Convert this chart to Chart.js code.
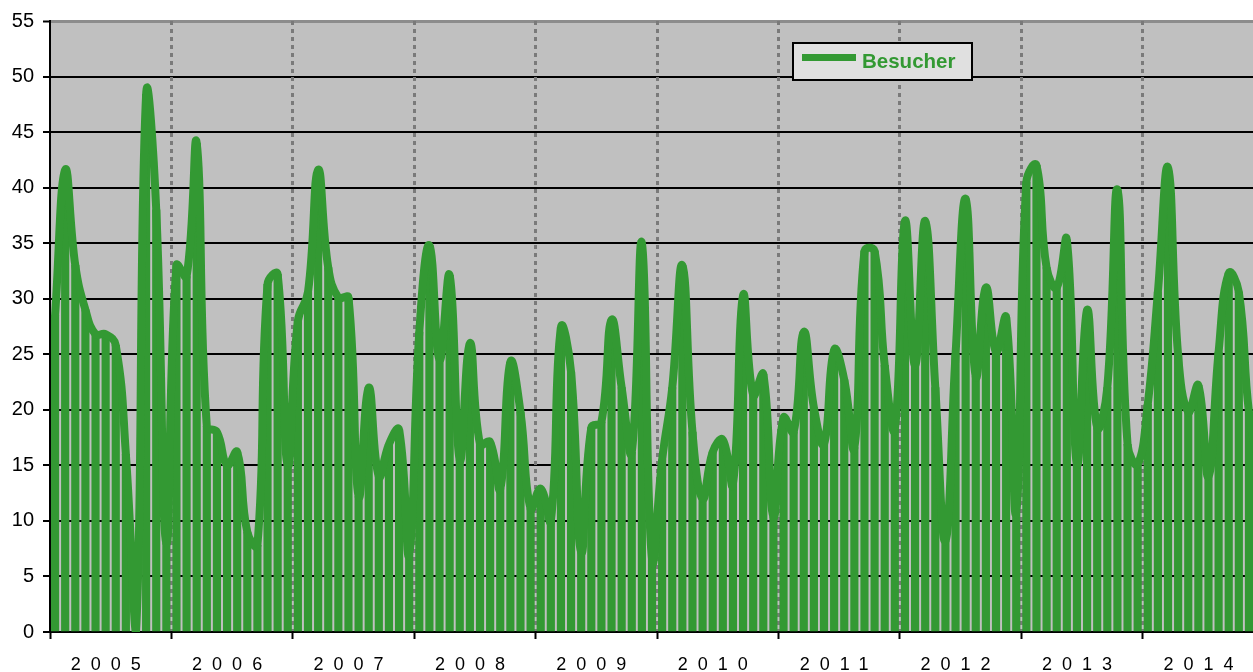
<!DOCTYPE html>
<html><head><meta charset="utf-8">
<script src="https://cdn.jsdelivr.net/npm/chart.js@4.4.1/dist/chart.umd.min.js"></script>
<style>html,body{margin:0;padding:0;background:#fff;overflow:hidden}#wrap{position:relative;width:1253px;height:672px}</style>
</head><body><div id="wrap"><canvas id="c" width="1253" height="672"></canvas></div>
<script>
// ---- data ----
const years = ['2005','2006','2007','2008','2009','2010','2011','2012','2013','2014'];
const monthsPerYear = 12;
const seriesName = 'Besucher';
const visitors = [
  28.5, 41.6, 33, 29, 26.8, 26.8, 25.8, 16, 0, 48.4, 38, 8,      // 2005
  33, 32, 44, 18.5, 18, 15, 16.2, 9, 7.8, 31.3, 32.2, 15,        // 2006
  28, 30.6, 41.6, 32.8, 30.1, 30.1, 12.2, 22, 14, 16.9, 18.2, 7, // 2007
  27, 34.8, 24.5, 32.1, 15.5, 26, 16.9, 17.1, 12.9, 24.3, 19.8, 11.1, // 2008
  12.9, 10, 27.4, 23.4, 7.2, 18.4, 18.9, 28.1, 22, 16.2, 35, 6.5,     // 2009
  15.5, 22, 33, 18, 12, 16.2, 17.3, 13.3, 30.3, 21.3, 23.2, 10.4,     // 2010
  19.3, 18, 27, 20.2, 16.9, 25.4, 22.7, 16.6, 34.3, 34.3, 24, 18.3,   // 2011
  37, 24, 37, 22, 8.2, 25, 39, 23, 31, 25.2, 28.3, 10.8,              // 2012
  40.5, 42, 32.8, 31, 35.3, 15.1, 29, 18.4, 22, 39.8, 16.9, 15.1,     // 2013
  20.5, 30.6, 41.8, 24.9, 19.8, 22.2, 14, 25.2, 32.3, 30.6, 19.8, 15  // 2014
];
const yMin = 0, yMax = 55, yStep = 5;

// ---- styling ----
const GREEN = '#339933';
const FONT = '"Liberation Sans", Arial, sans-serif';

class SpacedLinear extends Chart.LinearScale {
  drawLabels(area) {
    const c = this.ctx; c.save();
    try { c.letterSpacing = '10px'; } catch (e) {}
    super.drawLabels(area);
    c.restore();
  }
}
SpacedLinear.id = 'spacedLinear';
SpacedLinear.defaults = Chart.LinearScale.defaults;
Chart.register(SpacedLinear);

const plotBg = {
  id: 'plotBg',
  beforeDraw(chart) {
    const {ctx, chartArea: a} = chart;
    ctx.save(); ctx.fillStyle = '#c0c0c0';
    ctx.fillRect(a.left, a.top, a.right - a.left, a.bottom - a.top);
    ctx.restore();
  }
};
const legendBox = {
  id: 'legendBox',
  afterDatasetsDraw(chart) {
    const {ctx, chartArea: a} = chart;
    const x = a.left + 743, y = a.top + 22, w = 179, h = 37;
    ctx.save();
    ctx.fillStyle = '#e0e0e0'; ctx.fillRect(x, y, w, h);
    ctx.strokeStyle = '#000'; ctx.lineWidth = 2; ctx.strokeRect(x, y, w, h);
    ctx.strokeStyle = GREEN; ctx.lineWidth = 7; ctx.beginPath();
    ctx.moveTo(x + 9, y + 14.5); ctx.lineTo(x + 63, y + 14.5); ctx.stroke();
    ctx.fillStyle = GREEN; ctx.font = 'bold 20.5px ' + FONT; ctx.textBaseline = 'alphabetic';
    ctx.fillText(seriesName, x + 69, y + 24.5);
    ctx.restore();
  }
};

const points = visitors.map((v, i) => ({x: i, y: v}));
const xMax = visitors.length - 1.6;
const boundaries = years.map((_, k) => -0.5 + k * monthsPerYear);
const centers = years.map((_, k) => (monthsPerYear / 2 - 0.5) + k * monthsPerYear);

new Chart(document.getElementById('c'), {
  type: 'bar',
  data: {
    datasets: [
      { type: 'line', label: seriesName, data: points, borderColor: GREEN, borderWidth: 8,
        pointRadius: 0, tension: 0.45, fill: false, borderJoinStyle: 'round', borderCapStyle: 'round',
        clip: 0, xAxisID: 'x', yAxisID: 'y' },
      { type: 'bar', label: seriesName, data: points, backgroundColor: GREEN, borderWidth: 0,
        barThickness: 7.5, xAxisID: 'x', yAxisID: 'y' }
    ]
  },
  options: {
    responsive: false, animation: false, devicePixelRatio: 1,
    layout: { padding: { top: 20, right: 0, left: 0, bottom: 0 } },
    plugins: { legend: { display: false }, tooltip: { enabled: false } },
    scales: {
      y: {
        min: yMin, max: yMax,
        ticks: { stepSize: yStep, color: '#000', font: { family: FONT, size: 20 }, padding: 9 },
        grid: {
          color: c => (c.tick && c.tick.value === yMax) ? '#8c8c8c' : '#000',
          lineWidth: c => (c.tick && c.tick.value === yMax) ? 3 : 2,
          tickLength: 7, tickColor: '#000', tickWidth: 2
        },
        border: { color: '#000', width: 2 },
        afterFit: s => { s.width = 50; }
      },
      x: {
        type: 'linear', position: 'bottom', min: -0.5, max: xMax, offset: false,
        afterBuildTicks: s => { s.ticks = boundaries.filter(v => v <= s.max).map(v => ({value: v})); },
        ticks: { display: false },
        grid: {
          offset: false,
          color: c => (c.index === 0) ? 'rgba(0,0,0,0)' : '#7a7a7a',
          lineWidth: 3, tickLength: 7, tickColor: '#000', tickWidth: 2, tickBorderDash: []
        },
        border: { color: '#000', width: 2, dash: [4, 4] },
        afterFit: s => { s.height = 7; }
      },
      xl: {
        type: 'spacedLinear', position: 'bottom', min: -0.5, max: xMax, offset: false,
        afterBuildTicks: s => { s.ticks = centers.map(v => ({value: v})); },
        ticks: {
          callback: v => years[Math.round((v - (monthsPerYear / 2 - 0.5)) / monthsPerYear)],
          font: { family: FONT, size: 18 }, color: '#000', padding: 15, maxRotation: 0,
          autoSkip: false, labelOffset: 0
        },
        grid: { display: false, drawTicks: false },
        border: { display: false },
        afterFit: s => { s.height = 33; }
      }
    }
  },
  plugins: [plotBg, legendBox]
});
</script>
</body></html>
